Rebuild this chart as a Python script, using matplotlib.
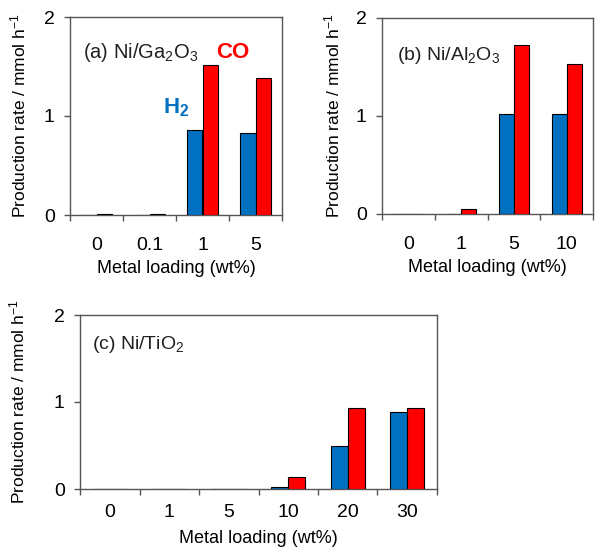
import matplotlib
matplotlib.use("Agg")
import matplotlib.pyplot as plt
import numpy as np

plt.rcParams['font.family'] = ['Liberation Sans', 'DejaVu Sans']
plt.rcParams['mathtext.fontset'] = 'custom'
plt.rcParams['mathtext.rm'] = 'Liberation Sans'
plt.rcParams['mathtext.it'] = 'Liberation Sans:italic'
plt.rcParams['mathtext.bf'] = 'Liberation Sans:bold'

# Data
cats_a = ['0', '0.1', '1', '5']
h2_a = [0.005, 0.0, 0.86, 0.83]
co_a = [0.01, 0.01, 1.52, 1.38]

cats_b = ['0', '1', '5', '10']
h2_b = [0.0, 0.005, 1.02, 1.02]
co_b = [0.0, 0.055, 1.72, 1.53]

cats_c = ['0', '1', '5', '10', '20', '30']
h2_c = [0.0, 0.0, 0.0, 0.02, 0.49, 0.88]
co_c = [0.0, 0.0, 0.0, 0.135, 0.93, 0.93]

BLUE = '#0070C0'
RED = '#FF0000'
SPINE = '#555555'

fig = plt.figure(figsize=(5.95, 5.47), dpi=100)

def panel(rect, cats, h2, co, label, lab_xy, ylab_x, xlab_y, lab_size=14, xpad=16):
    ax = fig.add_axes(rect)
    n = len(cats)
    x = np.arange(n)
    w = 0.285
    ax.bar(x - w / 2, h2, w, color=BLUE, edgecolor='black', linewidth=0.8, zorder=3)
    ax.bar(x + w / 2, co, w, color=RED, edgecolor='black', linewidth=0.8, zorder=3)
    ax.set_xlim(-0.5, n - 0.5)
    ax.set_ylim(0, 2)
    ax.set_yticks([0, 1, 2])
    ax.set_yticklabels(['0', '1', '2'])
    ax.set_xticks(np.arange(n + 1) - 0.5)
    ax.set_xticklabels([])
    ax.set_xticks(x, minor=True)
    ax.set_xticklabels(cats, minor=True)
    ax.tick_params(axis='x', which='major', direction='out', length=4, width=1, color=SPINE)
    ax.tick_params(axis='x', which='minor', length=0, pad=xpad, labelsize=14)
    ax.tick_params(axis='y', direction='out', length=4, width=1, color=SPINE, labelsize=14, pad=7)
    for s in ax.spines.values():
        s.set_color(SPINE)
        s.set_linewidth(1.0)
    ax.set_ylabel('Production rate / mmol h$^{-1}$', fontsize=12.5)
    ax.yaxis.set_label_coords(ylab_x, 0.5)
    ax.set_xlabel('Metal loading (wt%)', fontsize=13)
    ax.xaxis.set_label_coords(0.5, xlab_y)
    ax.text(lab_xy[0], lab_xy[1], label, transform=ax.transAxes, fontsize=lab_size,
            ha='left', va='center', color='#202020')
    return ax

ax_a = panel([70 / 595, 1 - 215 / 547, 212 / 595, 198 / 547], cats_a, h2_a, co_a,
             r'(a) Ni/Ga$_2$O$_3$', (0.06, 0.82), -0.198, -0.227, lab_size=14.5)
ax_a.text(0.69, 0.82, 'CO', transform=ax_a.transAxes, fontsize=16, fontweight='bold',
          color=RED, ha='left', va='center')
ax_a.text(0.44, 0.54, r'H$_\mathbf{2}$', transform=ax_a.transAxes, fontsize=16, fontweight='bold',
          color=BLUE, ha='left', va='center')

ax_b = panel([382 / 595, 1 - 214 / 547, 211 / 595, 196 / 547], cats_b, h2_b, co_b,
             r'(b) Ni/Al$_2$O$_3$', (0.07, 0.81), -0.19, -0.23)

ax_c = panel([80 / 595, 1 - 489 / 547, 357 / 595, 174 / 547], cats_c, h2_c, co_c,
             r'(c) Ni/TiO$_2$', (0.034, 0.83), -0.148, -0.235, xpad=11)

fig.savefig('out.png', dpi=100)
